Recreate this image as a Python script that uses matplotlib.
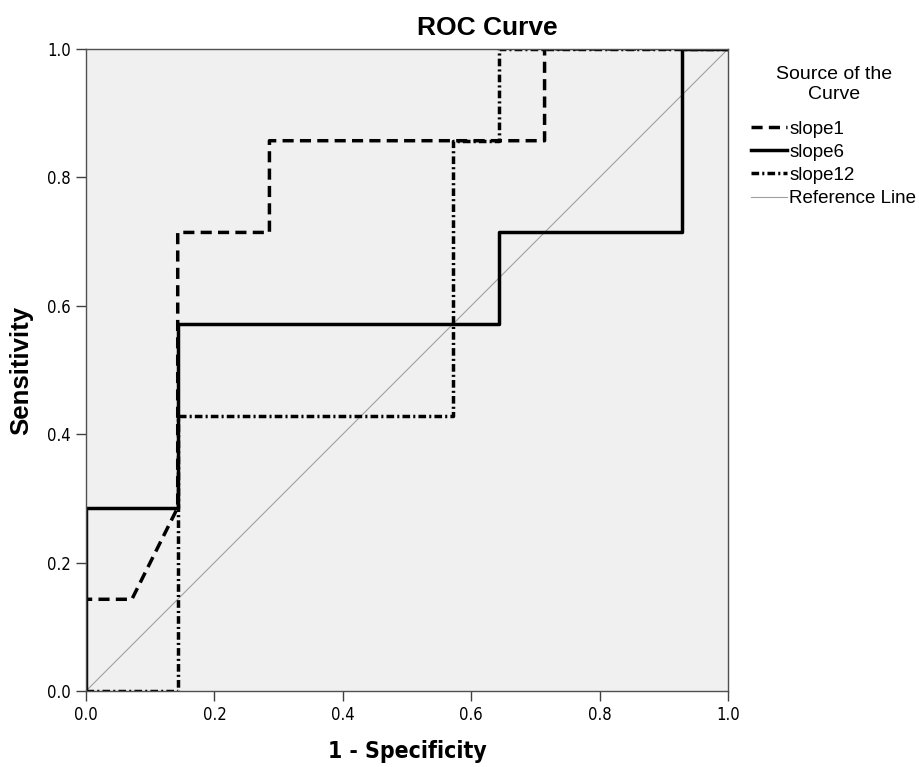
import numpy as np
import matplotlib
matplotlib.use('Agg')
import matplotlib.pyplot as plt
from matplotlib import font_manager

plt.rcParams['font.family'] = ['Liberation Sans', 'DejaVu Sans']

# ROC step coordinates (1 - specificity, sensitivity)
slope1_x = [0.0, 0.0, 1/14, 2/14, 2/14, 4/14, 4/14, 10/14, 10/14, 1.0]
slope1_y = [0.0, 1/7, 1/7, 2/7, 5/7, 5/7, 6/7, 6/7, 1.0, 1.0]
slope6_x = [0.0, 0.0, 2/14, 2/14, 9/14, 9/14, 13/14, 13/14, 1.0]
slope6_y = [0.0, 2/7, 2/7, 4/7, 4/7, 5/7, 5/7, 1.0, 1.0]
slope12_x = [0.0, 2/14, 2/14, 8/14, 8/14, 9/14, 9/14, 1.0]
slope12_y = [0.0, 0.0, 3/7, 3/7, 6/7, 6/7, 1.0, 1.0]
ref_x = [0.0, 1.0]
ref_y = [0.0, 1.0]
ticks = [0.0, 0.2, 0.4, 0.6, 0.8, 1.0]

names = set(f.name for f in font_manager.fontManager.ttflist)
narrow = 'Liberation Sans Narrow' if 'Liberation Sans Narrow' in names else 'DejaVu Sans'
tick_font = font_manager.FontProperties(family=narrow, stretch='condensed', size=12)
xlab_font = font_manager.FontProperties(family=narrow, stretch='condensed',
                                        weight='bold', size=16.5)

fig = plt.figure(figsize=(9.19, 7.67), dpi=100)
ax = fig.add_axes([86/919, 1 - 691/767, 642/919, 642/767])
ax.set_facecolor('#f0f0f0')

ax.plot(ref_x, ref_y, '-', color='#a0a0a0', linewidth=0.8, label='Reference Line')
ax.plot(slope1_x, slope1_y, color='black', linewidth=2.5, dashes=(3.2, 1.8),
        label='slope1')
ax.plot(slope6_x, slope6_y, '-', color='black', linewidth=2.5, label='slope6')
ax.plot(slope12_x, slope12_y, color='black', linewidth=2.5,
        dashes=(2.2, 0.9, 0.6, 0.9), label='slope12')

ax.set_xlim(0, 1)
ax.set_ylim(0, 1)
ax.set_xticks(ticks)
ax.set_yticks(ticks)
ax.set_xticklabels(['%.1f' % t for t in ticks], fontproperties=tick_font)
ax.set_yticklabels(['%.1f' % t for t in ticks], fontproperties=tick_font)
ax.tick_params(direction='out', length=7, width=1, color='#404040', pad=4)
for s in ax.spines.values():
    s.set_color('#505050')
    s.set_linewidth(1)

ax.set_xlabel('1 - Specificity', fontproperties=xlab_font, labelpad=11)
ax.set_ylabel('Sensitivity', fontsize=18.5, fontweight='bold', labelpad=10)
fig.text(487/919, 1 - 28/767, 'ROC Curve', fontsize=19, fontweight='bold',
         ha='center', va='center')

handles, labels = ax.get_legend_handles_labels()
order = [1, 2, 3, 0]
leg = fig.legend([handles[i] for i in order], [labels[i] for i in order],
                 title='Source of the\nCurve', loc='upper left',
                 bbox_to_anchor=(751/919, 1 - 66/767), frameon=False,
                 prop={'size': 13.5}, title_fontproperties={'size': 14},
                 alignment='center',
                 handlelength=1.9, handletextpad=0.15, labelspacing=0.32,
                 borderaxespad=0, borderpad=0)
leg.get_title().set_multialignment('center')
leg._legend_box.sep = 13

fig.savefig('out.png', dpi=100, facecolor='white')
